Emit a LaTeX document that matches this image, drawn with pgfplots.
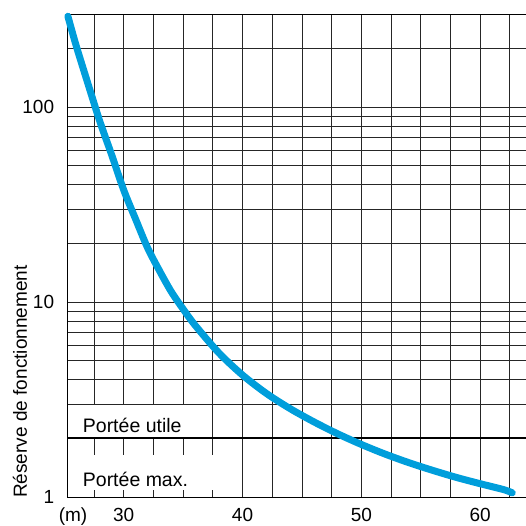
\documentclass[border=0pt]{standalone}
\usepackage{pgfplots}
\pgfplotsset{compat=1.18}
\usepackage{fontspec}
\setmainfont{Liberation Sans}
\definecolor{curve}{RGB}{0,158,219}
\begin{document}
\begin{tikzpicture}
\begin{axis}[
  scale only axis,
  width=460.35pt, height=483pt,
  xmin=25.25, xmax=64,
  ymode=log, ymin=1, ymax=300,
  xtick={30,40,50,60}, xticklabels={30,40,50,60},
  minor xtick={27.5,32.5,35,37.5,42.5,45,47.5,52.5,55,57.5,62.5},
  ytick={1,10,100}, yticklabels={1,10,100},
  minor ytick={2,3,4,5,6,7,8,9,20,30,40,50,60,70,80,90,200,300},
  grid=both,
  major grid style={black!85, line width=0.8pt},
  minor grid style={black!85, line width=0.8pt},
  major tick length=0pt, minor tick length=0pt,
  axis line style={black, line width=0.8pt},
  tick label style={font=\fontsize{19}{22}\selectfont, inner sep=0pt},
  xticklabel style={anchor=north}, yticklabel style={anchor=east},
  xticklabel shift=11pt, yticklabel shift=13pt,
  clip=false,
]
\coordinate (O) at (rel axis cs:0,0);
% white label boxes
\fill[white] (axis cs:25.32,2.04) rectangle (axis cs:37.2,2.95);
\fill[white] (axis cs:25.32,1.086) rectangle (axis cs:39.3,1.64);
% separator line
\draw[black, line width=1.8pt] (axis cs:25.25,2) -- (axis cs:64,2);
\addplot[curve, line width=7pt, line cap=round, smooth, tension=0.5] coordinates {
(25.3,292) (26,206) (27,131) (28,84.0) (29,56.5) (30,37.5) (31,26.6) (32,19.0)
(33,14.5) (34,11.3) (35,9.20) (36,7.61) (38,5.49) (40,4.22) (42,3.40)
(44,2.84) (46,2.43) (48,2.11) (50,1.86) (52,1.66) (54,1.50) (56,1.37)
(58,1.26) (60,1.17) (62,1.09) (62.7,1.05)
};
\end{axis}
\node[anchor=base west, inner sep=0pt, font=\fontsize{19.5}{22}\selectfont] at ([shift={(15.4pt,64pt)}]O) {Portée utile};
\node[anchor=base west, inner sep=0pt, font=\fontsize{19.5}{22}\selectfont] at ([shift={(15.4pt,10.6pt)}]O) {Portée max.};
\node[anchor=base, inner sep=0pt, font=\fontsize{19}{22}\selectfont] at ([shift={(5.7pt,-24.6pt)}]O) {(m)};
\node[rotate=90, anchor=base west, inner sep=0pt, font=\fontsize{19}{22}\selectfont] at ([shift={(-40.3pt,-1pt)}]O) {Réserve de fonctionnement};
\pgfresetboundingbox
\path[use as bounding box] ([shift={(-67.3pt,-29pt)}]O) rectangle ([shift={(458.7pt,497pt)}]O);
\end{tikzpicture}
\end{document}
